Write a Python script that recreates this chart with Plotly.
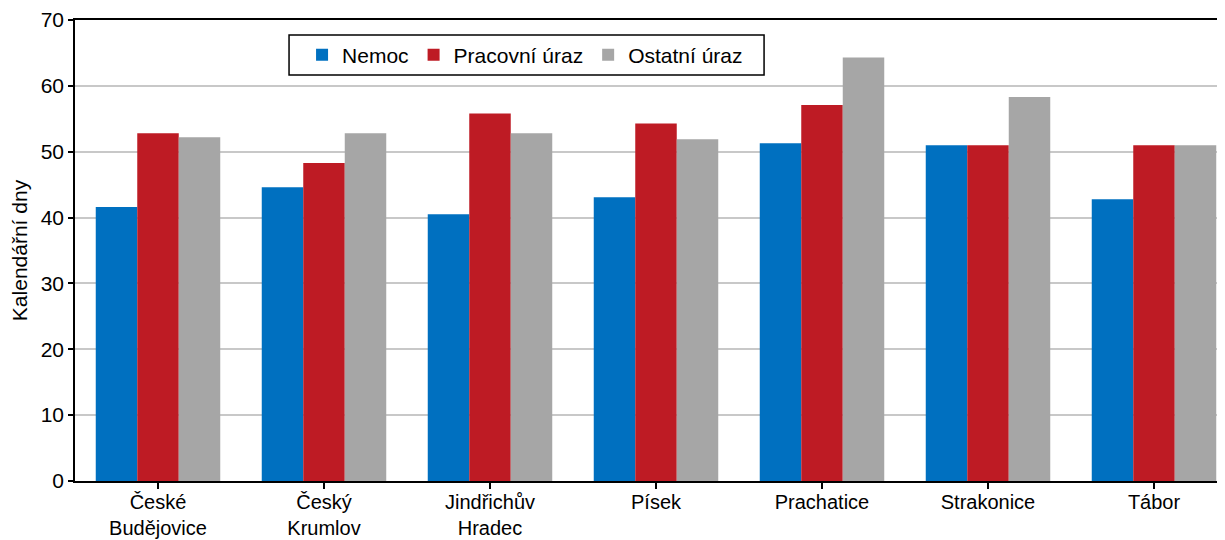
import plotly.graph_objects as go

categories = ["České<br>Budějovice", "Český<br>Krumlov", "Jindřichův<br>Hradec", "Písek",
              "Prachatice", "Strakonice", "Tábor"]
nemoc = [41.6, 44.6, 40.5, 43.1, 51.3, 51.0, 42.8]
pracovni = [52.8, 48.3, 55.8, 54.3, 57.1, 51.0, 51.0]
ostatni = [52.2, 52.8, 52.8, 51.9, 64.3, 58.3, 51.0]

series = [("Nemoc", nemoc, "#0070C0"),
          ("Pracovní úraz", pracovni, "#BE1B24"),
          ("Ostatní úraz", ostatni, "#A6A6A6")]

fig = go.Figure()
for name, vals, col in series:
    fig.add_trace(go.Bar(x=list(range(len(categories))), y=vals, name=name,
                         marker=dict(color=col, line=dict(width=0))))

font = dict(family="Liberation Sans, Arial, sans-serif", size=21, color="#000")
xfont = dict(family="Liberation Sans, Arial, sans-serif", size=20, color="#000")

# legend frame
fig.add_shape(type="rect", xref="paper", yref="paper",
              x0=0.1842, x1=0.593, y0=0.8807, y1=0.9675,
              line=dict(color="#000", width=1.5), fillcolor="white", layer="above")

fig.update_layout(
    width=1229, height=532,
    margin=dict(l=67, r=0, t=12, b=59, autoexpand=False),
    paper_bgcolor="white", plot_bgcolor="white",
    barmode="group", bargap=0.25, bargroupgap=0,
    font=font,
    showlegend=True,
    legend=dict(orientation="h", x=0.1954, y=0.924, xanchor="left", yanchor="middle",
                borderwidth=0, bgcolor="rgba(0,0,0,0)",
                font=font, itemwidth=30, traceorder="normal"),
    xaxis=dict(tickmode="array", tickvals=list(range(len(categories))), ticktext=categories,
               range=[-0.5, 6.5], showline=True, linecolor="#000", linewidth=1.5, mirror=True,
               ticks="outside", tickson="boundaries", ticklen=6, tickcolor="#000", tickwidth=1.5,
               automargin=False, ticklabelstandoff=-4,
               showgrid=False, tickfont=xfont),
    yaxis=dict(range=[0, 70], dtick=10, showline=True, linecolor="#000", linewidth=1.5,
               ticks="outside", ticklen=5, tickcolor="#000", tickwidth=1.5,
               showgrid=True, gridcolor="#C8C8C8", gridwidth=1.5, zeroline=False,
               tickfont=font, automargin=False,
               title=dict(text="Kalendářní dny", font=font, standoff=8)),
)
fig.write_html("out.html")
